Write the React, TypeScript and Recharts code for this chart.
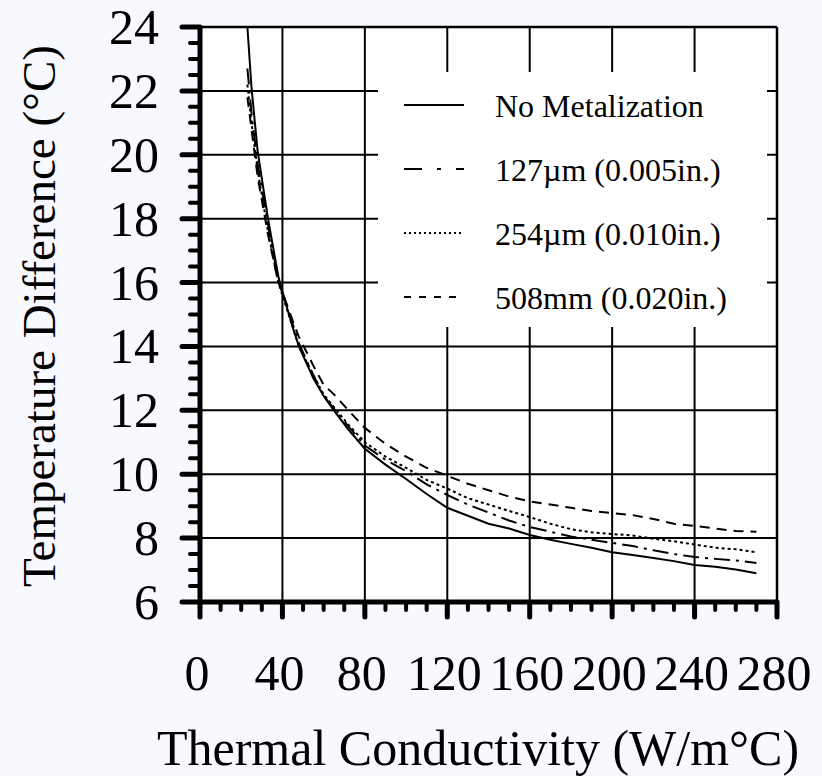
import React from 'react';
import { LineChart, Line, XAxis, YAxis, CartesianGrid, ReferenceLine, Legend, Label } from 'recharts';

// ---- data ----
const conductivity = [23, 25, 28, 33, 38, 40, 45, 48, 55, 60, 65, 72, 80, 90, 100, 110, 120, 130, 140, 150, 160, 170, 180, 190, 200, 210, 220, 230, 240, 250, 260, 270];
const noMetalization = [24, 22.1, 20.1, 18.0, 16.2, 15.7, 14.6, 14.0, 13.0, 12.45, 12.0, 11.4, 10.8, 10.3, 9.85, 9.38, 8.95, 8.7, 8.45, 8.3, 8.1, 7.95, 7.82, 7.7, 7.56, 7.47, 7.38, 7.28, 7.16, 7.1, 7.02, 6.9];
const um127 = [22.7, 21.3, 19.7, 17.8, 16.1, 15.7, 14.7, 14.1, 13.1, 12.45, 12.05, 11.5, 10.9, 10.45, 10.1, 9.68, 9.35, 9.05, 8.8, 8.55, 8.35, 8.2, 8.05, 7.95, 7.85, 7.75, 7.62, 7.5, 7.41, 7.35, 7.3, 7.22];
const um254 = [22.2, 21.0, 19.5, 17.6, 16.0, 15.6, 14.6, 14.0, 13.1, 12.5, 12.1, 11.55, 11.0, 10.55, 10.2, 9.82, 9.55, 9.25, 9.05, 8.85, 8.66, 8.45, 8.28, 8.18, 8.13, 8.08, 7.98, 7.9, 7.8, 7.7, 7.65, 7.56];
const mm508 = [21.8, 20.8, 19.3, 17.5, 16.0, 15.7, 14.8, 14.3, 13.4, 12.8, 12.5, 12.0, 11.45, 10.95, 10.55, 10.2, 9.95, 9.7, 9.5, 9.3, 9.15, 9.05, 8.95, 8.85, 8.78, 8.72, 8.6, 8.45, 8.38, 8.3, 8.22, 8.2];

const seriesNames = ['No Metalization', '127\u00b5m (0.005in.)', '254\u00b5m (0.010in.)', '508mm (0.020in.)'];

const xTicks = [0, 10, 20, 30, 40, 50, 60, 70, 80, 90, 100, 110, 120, 130, 140, 150, 160, 170, 180, 190, 200, 210, 220, 230, 240, 250, 260, 270, 280];
const xLabelTicks = [0, 40, 80, 120, 160, 200, 240, 280];
const yTicks = [6, 6.5, 7, 7.5, 8, 8.5, 9, 9.5, 10, 10.5, 11, 11.5, 12, 12.5, 13, 13.5, 14, 14.5, 15, 15.5, 16, 16.5, 17, 17.5, 18, 18.5, 19, 19.5, 20, 20.5, 21, 21.5, 22, 22.5, 23, 23.5, 24];
const yLabelTicks = [6, 8, 10, 12, 14, 16, 18, 20, 22, 24];
const xGrid = [40, 80, 120, 160, 200, 240];
const yGrid = [8, 10, 12, 14, 16, 18, 20, 22];

const xTitle = 'Thermal Conductivity (W/m\u00b0C)';
const yTitle = 'Temperature Difference (\u00b0C)';

// ---- styles ----
const FONT = '"Liberation Serif", "Times New Roman", Times, serif';
const seriesKeys = ['s0', 's1', 's2', 's3'];
const plotDash = [undefined, '16 6 3 6', '3 3', '10 7'];
const legendDash = [undefined, '18 15 4 15', '2 3', '7 8'];

const data = conductivity.map((k, i) => ({
  k,
  s0: noMetalization[i],
  s1: um127[i],
  s2: um254[i],
  s3: mm508[i],
}));

const YTick = (props: any) => {
  const { x, y, payload } = props;
  const v = payload.value;
  const major = yLabelTicks.includes(v);
  return (
    <g>
      <line x1={x - (major ? 18 : 10)} y1={y} x2={x} y2={y} stroke="#000" strokeWidth={major ? 5 : 4} strokeLinecap="round" />
      {major && (
        <text x={x - 41} y={y + 17} textAnchor="end" fontSize={50} fontFamily={FONT} fill="#000">
          {v}
        </text>
      )}
    </g>
  );
};

const XTick = (props: any) => {
  const { x, y, payload } = props;
  const v = payload.value;
  const major = xLabelTicks.includes(v);
  return (
    <g>
      <line x1={x} y1={y} x2={x} y2={y + (major ? 15 : 8)} stroke="#000" strokeWidth={major ? 5 : 4} strokeLinecap="round" />
      {major && (
        <text x={x - 3} y={y + 88} textAnchor="middle" fontSize={50} fontFamily={FONT} fill="#000">
          {v}
        </text>
      )}
    </g>
  );
};

const XTitle = () => (
  <text x={478} y={765} textAnchor="middle" fontSize={50} fontFamily={FONT} fill="#000">
    {xTitle}
  </text>
);

const YTitle = () => (
  <text x={55} y={316} textAnchor="middle" fontSize={47} fontFamily={FONT} fill="#000" transform="rotate(-90, 55, 316)">
    {yTitle}
  </text>
);

const LegendBox = () => (
  <svg width={389} height={255} style={{ display: 'block' }}>
    {seriesNames.map((name, i) => (
      <g key={name}>
        <line x1={26} x2={86} y1={33 + i * 64} y2={33 + i * 64} stroke="#000" strokeWidth={2} strokeDasharray={legendDash[i]} />
        <text x={117} y={45 + i * 64} fontSize={32} fontFamily={FONT} fill="#000">
          {name}
        </text>
      </g>
    ))}
  </svg>
);

export default function App() {
  return (
    <div style={{ position: 'absolute', left: 0, top: 0, width: 822, height: 776, background: '#F8F8FF', overflow: 'hidden' }}>
      <LineChart width={822} height={776} data={data} margin={{ top: 27, right: 45, bottom: 0, left: 0 }}>
        <CartesianGrid fill="#ffffff" horizontal={false} vertical={false} />
        {xGrid.map((v) => (
          <ReferenceLine key={'x' + v} x={v} stroke="#000" strokeWidth={2} />
        ))}
        {yGrid.map((v) => (
          <ReferenceLine key={'y' + v} y={v} stroke="#000" strokeWidth={2} />
        ))}
        <ReferenceLine x={280} stroke="#000" strokeWidth={2.5} />
        <ReferenceLine y={24} stroke="#000" strokeWidth={2.5} />
        <XAxis
          type="number"
          dataKey="k"
          domain={[0, 280]}
          ticks={xTicks}
          interval={0}
          tickSize={0}
          tickMargin={0}
          tickLine={false}
          tick={<XTick />}
          axisLine={{ stroke: '#000', strokeWidth: 5 }}
          height={174}
          allowDataOverflow
        >
          <Label content={<XTitle />} />
        </XAxis>
        <YAxis
          type="number"
          domain={[6, 24]}
          ticks={yTicks}
          interval={0}
          tickSize={0}
          tickMargin={0}
          tickLine={false}
          tick={<YTick />}
          axisLine={{ stroke: '#000', strokeWidth: 5 }}
          width={200}
          allowDataOverflow
        >
          <Label content={<YTitle />} />
        </YAxis>
        <Legend
          layout="vertical"
          align="center"
          verticalAlign="middle"
          content={<LegendBox />}
          wrapperStyle={{ left: 378, top: 72, width: 389, height: 255, background: '#ffffff', margin: 0, padding: 0 }}
        />
        {seriesKeys.map((key, i) => (
          <Line
            key={key}
            type="linear"
            dataKey={key}
            name={seriesNames[i]}
            stroke="#000"
            strokeWidth={2}
            strokeDasharray={plotDash[i]}
            dot={false}
            activeDot={false}
            isAnimationActive={false}
          />
        ))}
      </LineChart>
    </div>
  );
}
